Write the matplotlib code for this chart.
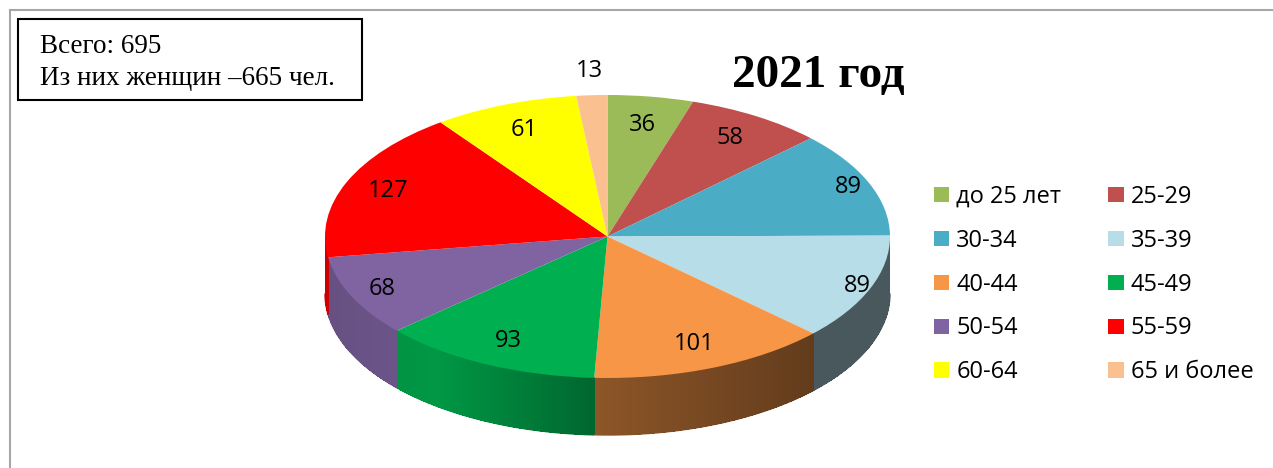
import numpy as np
import matplotlib
matplotlib.use("Agg")
import matplotlib.pyplot as plt
from matplotlib.colors import to_rgb
from matplotlib.collections import PolyCollection, LineCollection
from matplotlib.patches import Rectangle, Patch
from matplotlib.lines import Line2D

W, H = 1273, 468

groups = ["до 25 лет", "25-29", "30-34", "35-39", "40-44",
          "45-49", "50-54", "55-59", "60-64", "65 и более"]
counts = [36, 58, 89, 89, 101, 93, 68, 127, 61, 13]
colors = ["#9BBB59", "#C0504D", "#4BACC6", "#B7DDE8", "#F79646",
          "#00B050", "#8064A2", "#FF0000", "#FFFF00", "#FAC090"]
total_all = 695
women = 665
year = 2021

fig = plt.figure(figsize=(W / 100, H / 100), dpi=100)
fig.patch.set_facecolor("white")

# pie ellipse geometry (pixels)
CX, CY, RX, RY, DEPTH = 607.5, 236.5, 282.5, 141.5, 57
XL, YL = (-1.2, 1.2), (-1.6, 1.35)
left, right = CX + XL[0] * RX, CX + XL[1] * RX
top, bottom = CY - YL[1] * RY, CY - YL[0] * RY
ax = fig.add_axes([left / W, 1 - bottom / H, (right - left) / W, (bottom - top) / H])

wedges, _ = ax.pie(counts, colors=colors, startangle=90, counterclock=False,
                   radius=1, wedgeprops=dict(linewidth=0, zorder=3))
ax.set_aspect("auto")
ax.set_xlim(*XL)
ax.set_ylim(*YL)
ax.axis("off")

# extruded side of the pie, shaded left -> right
d = DEPTH / RY
shade_x = [-1.0, -0.6, 0.0, 0.73, 1.0]
shade_f = [0.80, 0.86, 0.56, 0.40, 0.40]
bounds = 90 - 360 * np.concatenate([[0], np.cumsum(counts)]) / sum(counts)
polys, fcs, rim = [], [], []
for i, c in enumerate(colors):
    lo, hi = max(bounds[i + 1], -180), min(bounds[i], 0)
    if lo >= hi:
        continue
    ts = np.radians(np.linspace(lo, hi, int((hi - lo) / 0.5) + 2))
    base = np.array(to_rgb(c))
    for t0, t1 in zip(ts[:-1], ts[1:]):
        x0, x1 = np.cos(t0), np.cos(t1)
        y0, y1 = np.sin(t0), np.sin(t1)
        polys.append([(x0, y0), (x1, y1), (x1, y1 - d), (x0, y0 - d)])
        rim.append([(x0, y0 - d), (x1, y1 - d)])
        fcs.append(base * np.interp((x0 + x1) / 2, shade_x, shade_f))
ax.add_collection(PolyCollection(polys, facecolors=fcs, edgecolors="none",
                                 antialiased=False, zorder=1))
ax.add_collection(LineCollection(rim, colors=fcs, linewidths=1.0, zorder=1.5))

# value labels
label_dist = [0.80, 0.82, 0.92, 0.95, 0.82, 0.82, 0.88, 0.84, 0.81, 1.17]
mids = np.radians((bounds[:-1] + bounds[1:]) / 2)
for n, r, m in zip(counts, label_dist, mids):
    ax.text(r * np.cos(m), r * np.sin(m), str(n), ha="center", va="center",
            fontsize=17, family="Open Sans", zorder=5)

# legend, row-wise in two columns
handles = [Patch(facecolor=c, edgecolor="none") for c in colors]
order = list(range(0, 10, 2)) + list(range(1, 10, 2))
fig.legend([handles[i] for i in order], [groups[i] for i in order], ncol=2,
           loc="upper left", bbox_to_anchor=(934 / W, 1 - 185 / H),
           frameon=False, prop=dict(family="Open Sans", size=17),
           handlelength=0.64, handleheight=0.62, handletextpad=0.3,
           labelspacing=0.84, columnspacing=2.0, borderpad=0, borderaxespad=0)

# title and info box
fig.text(818 / W, 1 - 87 / H, f"{year} год", ha="center", va="baseline",
         family="Liberation Serif", weight="bold", fontsize=34)
fig.add_artist(Rectangle((18 / W, 1 - 100 / H), 344 / W, 81 / H,
                         transform=fig.transFigure, fill=False,
                         edgecolor="black", linewidth=1.5))
fig.text(40 / W, 1 - 53 / H, f"Всего: {total_all}", va="baseline",
         family="Liberation Serif", fontsize=19.5)
fig.text(40 / W, 1 - 85 / H, f"Из них женщин –{women} чел.", va="baseline",
         family="Liberation Serif", fontsize=19.5)

# grey page frame (top and left)
fc = "#a6a6a6"
fig.add_artist(Line2D([10 / W, 10 / W], [0, 1 - 10 / H], color=fc, lw=1.5))
fig.add_artist(Line2D([10 / W, 1], [1 - 10 / H, 1 - 10 / H], color=fc, lw=1.5))

fig.savefig("out.png", dpi=100, facecolor="white")
